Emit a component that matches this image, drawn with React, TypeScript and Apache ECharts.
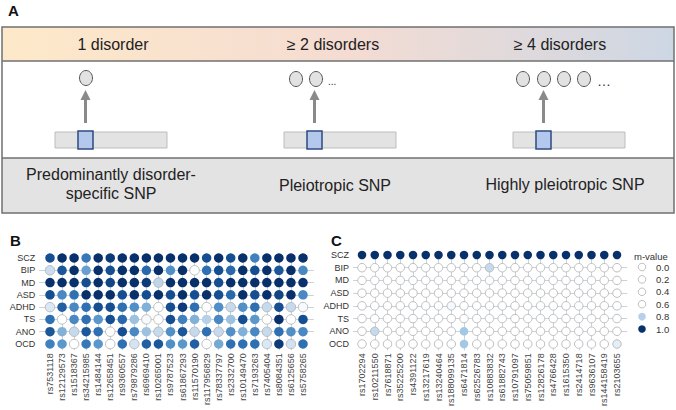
import React, { useEffect, useRef } from 'react';
import * as echarts from 'echarts';

const disorders = ['SCZ', 'BIP', 'MD', 'ASD', 'ADHD', 'TS', 'ANO', 'OCD'];

const snpsB = ['rs7531118', 'rs12129573', 'rs1518367', 'rs34215985', 'rs1484144', 'rs12658451', 'rs9360557', 'rs79879286', 'rs6969410', 'rs10265001', 'rs9787523', 'rs61867293', 'rs11570190', 'rs117956829', 'rs78337797', 'rs2332700', 'rs10149470', 'rs7193263', 'rs7405404', 'rs8084351', 'rs6125656', 'rs5758265'];
const snpsC = ['rs1702294', 'rs10211550', 'rs7618871', 'rs35225200', 'rs4391122', 'rs13217619', 'rs13240464', 'rs188099135', 'rs6471814', 'rs62526783', 'rs10883832', 'rs61882743', 'rs10791097', 'rs75059851', 'rs12826178', 'rs4766428', 'rs1615350', 'rs2414718', 'rs9636107', 'rs144158419', 'rs2103655'];

// Panel B m-values (rows = disorders, columns = snpsB)
const bSCZ = [0.97, 1, 1, 0.92, 1, 0.99, 1, 1, 1, 1, 1, 1, 1, 0.97, 1, 0.97, 1, 0.91, 1, 1, 1, 1];
const bBIP = [0.77, 0.96, 1, 0.87, 1, 0.97, 1, 1, 0.94, 1, 0.89, 1, 0.55, 0.93, 0.97, 0.94, 1, 0.97, 1, 0.96, 1, 0.9];
const bMD = [1, 1, 1, 0.97, 1, 0.98, 1, 1, 0.99, 0.79, 1, 1, 1, 1, 0.97, 1, 1, 1, 1, 1, 1, 1];
const bASD = [0.97, 0.9, 0.93, 1, 1, 1, 0.97, 1, 0.97, 1, 0.97, 1, 0.97, 1, 0.97, 0.94, 1, 0.97, 1, 0.98, 1, 0.9];
const bADHD = [0.74, 0.95, 0.9, 0.93, 0.97, 0.97, 0.93, 0.89, 0.85, 0.55, 0.97, 0.99, 0.93, 0.6, 0.89, 0.78, 0.89, 0.93, 0.78, 0.97, 0.78, 0.65];
const bTS = [0.93, 0.55, 0.9, 0.93, 0.88, 0.97, 0.94, 0.83, 0.65, 0.55, 0.97, 0.91, 0.85, 0.8, 0.9, 0.83, 0.97, 0.88, 0.55, 1, 0.55, 0.97];
const bANO = [0.96, 0.85, 0.78, 0.96, 0.93, 0.55, 0.97, 0.9, 0.83, 0.78, 0.89, 0.96, 0.78, 0.93, 0.78, 0.89, 0.85, 0.9, 0.78, 0.93, 0.89, 0.9];
const bOCD = [0.91, 0.88, 0.55, 0.92, 0.88, 0.55, 0.93, 0.75, 0.95, 0.96, 0.89, 0.88, 0.95, 0.55, 0.86, 0.93, 0.93, 0.93, 0.74, 0.99, 0.76, 0.93];

// Panel C m-values (rows = disorders, columns = snpsC)
const cSCZ = [1, 1, 1, 1, 1, 1, 1, 1, 1, 1, 1, 1, 1, 1, 1, 1, 1, 1, 1, 1, 1];
const cBIP = [0.1, 0.1, 0.1, 0.1, 0.1, 0.1, 0.1, 0.1, 0.1, 0.1, 0.78, 0.1, 0.1, 0.1, 0.1, 0.1, 0.1, 0.1, 0.1, 0.1, 0.1];
const cMD = [0.1, 0.1, 0.1, 0.1, 0.1, 0.1, 0.1, 0.1, 0.1, 0.1, 0.1, 0.1, 0.1, 0.1, 0.1, 0.1, 0.1, 0.1, 0.1, 0.1, 0.1];
const cASD = [0.1, 0.1, 0.1, 0.1, 0.1, 0.1, 0.1, 0.1, 0.1, 0.1, 0.1, 0.1, 0.1, 0.1, 0.1, 0.1, 0.1, 0.1, 0.1, 0.1, 0.1];
const cADHD = [0.1, 0.1, 0.1, 0.1, 0.1, 0.1, 0.1, 0.66, 0.1, 0.1, 0.1, 0.1, 0.1, 0.1, 0.1, 0.1, 0.1, 0.1, 0.1, 0.1, 0.1];
const cTS = [0.1, 0.1, 0.1, 0.1, 0.1, 0.1, 0.1, 0.1, 0.1, 0.1, 0.1, 0.1, 0.1, 0.1, 0.1, 0.1, 0.1, 0.1, 0.1, 0.1, 0.1];
const cANO = [0.1, 0.78, 0.1, 0.1, 0.1, 0.1, 0.1, 0.1, 0.82, 0.1, 0.1, 0.1, 0.1, 0.1, 0.1, 0.1, 0.1, 0.1, 0.1, 0.1, 0.1];
const cOCD = [0.1, 0.1, 0.1, 0.1, 0.1, 0.1, 0.1, 0.1, 0.82, 0.1, 0.1, 0.1, 0.1, 0.1, 0.1, 0.1, 0.1, 0.1, 0.1, 0.1, 0.72];

const legendValues = [0.0, 0.2, 0.4, 0.6, 0.8, 1.0];

const rowsB = [bSCZ, bBIP, bMD, bASD, bADHD, bTS, bANO, bOCD];
const rowsC = [cSCZ, cBIP, cMD, cASD, cADHD, cTS, cANO, cOCD];

const FONT = 'Liberation Sans, Arial, sans-serif';
const GRIDLINE = '#c9d3de';

const stops: [number, string][] = [
  [0, '#ffffff'], [0.6, '#ffffff'], [0.7, '#eef4fa'], [0.78, '#c6daee'], [0.83, '#9cc2e0'],
  [0.88, '#5a98cc'], [0.93, '#2f70b3'], [0.97, '#164f91'], [1, '#08306b'],
];
function rgbOf(c: string) {
  return [parseInt(c.slice(1, 3), 16), parseInt(c.slice(3, 5), 16), parseInt(c.slice(5, 7), 16)];
}
function colorFor(v: number) {
  if (v <= stops[0][0]) return stops[0][1];
  for (let i = 1; i < stops.length; i++) {
    if (v <= stops[i][0]) {
      const [a, ca] = stops[i - 1];
      const [b, cb] = stops[i];
      const t = (v - a) / (b - a);
      const A = rgbOf(ca), B = rgbOf(cb);
      const m = A.map((x, k) => Math.round(x + (B[k] - x) * t));
      return `rgb(${m[0]},${m[1]},${m[2]})`;
    }
  }
  return stops[stops.length - 1][1];
}
function styleFor(v: number) {
  return {
    color: colorFor(v),
    borderColor: v < 0.8 ? '#b0b0b0' : colorFor(v),
    borderWidth: v < 0.8 ? 0.8 : 0,
    opacity: 1,
  };
}
function buildData(rows: number[][]) {
  const out: any[] = [];
  rows.forEach((row, r) => row.forEach((v, c) => out.push({ value: [c, r, v], itemStyle: styleFor(v) })));
  return out;
}

function xAxisFor(gridIndex: number, names: string[], min: number, max: number) {
  const idx = names.map((_, i) => i);
  return {
    gridIndex, type: 'value', min, max, position: 'bottom',
    axisLine: { show: false },
    axisTick: { show: false, customValues: idx },
    axisLabel: {
      customValues: idx, rotate: 90, fontSize: 9, color: '#444', margin: 3, fontFamily: FONT,
      formatter: (v: number) => names[Math.round(v)] ?? '',
    },
    splitLine: { show: true, showMinLine: false, showMaxLine: false, lineStyle: { color: GRIDLINE, width: 1 } },
  };
}
function yAxisFor(gridIndex: number, min: number, max: number) {
  const idx = disorders.map((_, i) => i);
  return {
    gridIndex, type: 'value', min, max, inverse: true,
    axisLine: { show: false },
    axisTick: { show: false, customValues: idx },
    axisLabel: {
      customValues: idx, fontSize: 9, color: '#333', margin: 4, fontFamily: FONT,
      formatter: (v: number) => disorders[Math.round(v)] ?? '',
    },
    splitLine: { show: true, showMinLine: false, showMaxLine: false, lineStyle: { color: GRIDLINE, width: 1 } },
  };
}

function panelA() {
  const els: any[] = [];
  const border = '#707070';
  els.push({ type: 'text', left: 8, top: 3, style: { text: 'A', font: `bold 15px ${FONT}`, fill: '#111' } });
  els.push({
    type: 'rect', shape: { x: 2, y: 27, width: 672, height: 34 },
    style: {
      fill: {
        type: 'linear', x: 0, y: 0, x2: 1, y2: 0,
        colorStops: [{ offset: 0, color: '#fde9c9' }, { offset: 0.5, color: '#f5dcd2' }, { offset: 1, color: '#cdd7e4' }],
      },
    },
  });
  els.push({ type: 'rect', shape: { x: 2, y: 158, width: 672, height: 55 }, style: { fill: '#e3e3e3' } });
  els.push({ type: 'rect', shape: { x: 2, y: 27, width: 672, height: 186 }, style: { fill: 'none', stroke: border, lineWidth: 1.5 } });
  els.push({ type: 'line', shape: { x1: 2, y1: 61, x2: 674, y2: 61 }, style: { stroke: border, lineWidth: 1.5 } });
  els.push({ type: 'line', shape: { x1: 2, y1: 158, x2: 674, y2: 158 }, style: { stroke: border, lineWidth: 1.5 } });

  const headers = [['1 disorder', 113], ['≥ 2 disorders', 333], ['≥ 4 disorders', 560]];
  headers.forEach(([t, x]) => els.push({
    type: 'text', x, y: 44,
    style: { text: t, font: `16px ${FONT}`, fill: '#222', align: 'center', verticalAlign: 'middle' },
  }));

  const circle = (cx: number, cy: number) => ({
    type: 'ellipse', shape: { cx, cy, rx: 6.5, ry: 7.5 },
    style: { fill: '#e2e2e2', stroke: '#555', lineWidth: 1 },
  });
  els.push(circle(86, 78));
  els.push(circle(296, 79), circle(316, 79));
  els.push({ type: 'text', x: 328, y: 81, style: { text: '...', font: `10px ${FONT}`, fill: '#333', verticalAlign: 'middle' } });
  [523, 544, 564, 584].forEach((x) => els.push(circle(x, 79)));
  els.push({ type: 'text', x: 597, y: 81, style: { text: '…', font: `14px ${FONT}`, fill: '#333', verticalAlign: 'middle' } });

  const groups = [
    { bar: 55, sq: 78 },
    { bar: 284, sq: 307 },
    { bar: 513, sq: 536 },
  ];
  groups.forEach(({ bar, sq }) => {
    const ax = sq + 7.5;
    els.push({ type: 'line', shape: { x1: ax, y1: 123, x2: ax, y2: 98 }, style: { stroke: '#8a8a8a', lineWidth: 3 } });
    els.push({ type: 'polygon', shape: { points: [[ax - 5, 100], [ax + 5, 100], [ax, 90]] }, style: { fill: '#8a8a8a' } });
    els.push({ type: 'rect', shape: { x: bar, y: 132, width: 112, height: 16 }, style: { fill: '#e3e3e3', stroke: '#bdbdbd', lineWidth: 1 } });
    els.push({ type: 'rect', shape: { x: sq, y: 131, width: 15, height: 18 }, style: { fill: '#b4c8ee', stroke: '#2e4a80', lineWidth: 1.5 } });
  });

  const bottoms = [['Predominantly disorder-', 111, 174], ['specific SNP', 111, 193], ['Pleiotropic SNP', 335, 185], ['Highly pleiotropic SNP', 565, 184]];
  bottoms.forEach(([t, x, y]) => els.push({
    type: 'text', x, y,
    style: { text: t, font: `16px ${FONT}`, fill: '#222', align: 'center', verticalAlign: 'middle' },
  }));

  els.push({ type: 'text', left: 10, top: 233, style: { text: 'B', font: `bold 15px ${FONT}`, fill: '#111' } });
  els.push({ type: 'text', left: 331, top: 233, style: { text: 'C', font: `bold 15px ${FONT}`, fill: '#111' } });

  // legend
  els.push({ type: 'text', x: 634, y: 256, style: { text: 'm-value', font: `9.5px ${FONT}`, fill: '#333', verticalAlign: 'middle' } });
  legendValues.forEach((v, i) => {
    const y = 267 + i * 12.4;
    const s = styleFor(v);
    els.push({
      type: 'circle', shape: { cx: 642, cy: y, r: 3.8 },
      style: { fill: s.color, stroke: v < 0.8 ? '#b0b0b0' : s.color, lineWidth: v < 0.8 ? 0.8 : 0 },
    });
    els.push({ type: 'text', x: 656, y, style: { text: v.toFixed(1), font: `9.5px ${FONT}`, fill: '#333', verticalAlign: 'middle' } });
  });
  return els;
}

export default function App() {
  const ref = useRef<HTMLDivElement>(null);
  useEffect(() => {
    document.body.style.margin = '0';
    const chart = echarts.init(ref.current!, null, { renderer: 'svg' });
    // Panel B geometry: dots from x 50..303, rows 258..344
    const bStepX = 253 / 21, bStepY = 86 / 7;
    const bMinX = -0.9, bMaxX = 21.9, bMinY = -0.3, bMaxY = 7.5;
    const cStepX = 255 / 20, cStepY = 89 / 7;
    const cMinX = -0.7, cMaxX = 20.8, cMinY = -0.3, cMaxY = 7.5;
    const option: any = {
      animation: false,
      grid: [
        { left: 50 + bMinX * bStepX, top: 258 + bMinY * bStepY, width: (bMaxX - bMinX) * bStepX, height: (bMaxY - bMinY) * bStepY },
        { left: 362 + cMinX * cStepX, top: 255 + cMinY * cStepY, width: (cMaxX - cMinX) * cStepX, height: (cMaxY - cMinY) * cStepY },
      ],
      xAxis: [xAxisFor(0, snpsB, bMinX, bMaxX), xAxisFor(1, snpsC, cMinX, cMaxX)],
      yAxis: [yAxisFor(0, bMinY, bMaxY), yAxisFor(1, cMinY, cMaxY)],
      series: [
        { type: 'scatter', xAxisIndex: 0, yAxisIndex: 0, symbolSize: 9.5, clip: false, itemStyle: { opacity: 1 }, data: buildData(rowsB), z: 3 },
        { type: 'scatter', xAxisIndex: 1, yAxisIndex: 1, symbolSize: 8.5, clip: false, itemStyle: { opacity: 1 }, data: buildData(rowsC), z: 3 },
      ],
      graphic: panelA(),
    };
    chart.setOption(option);
    return () => chart.dispose();
  }, []);
  return <div ref={ref} style={{ position: 'absolute', left: 0, top: 0, width: 676, height: 410 }} />;
}
